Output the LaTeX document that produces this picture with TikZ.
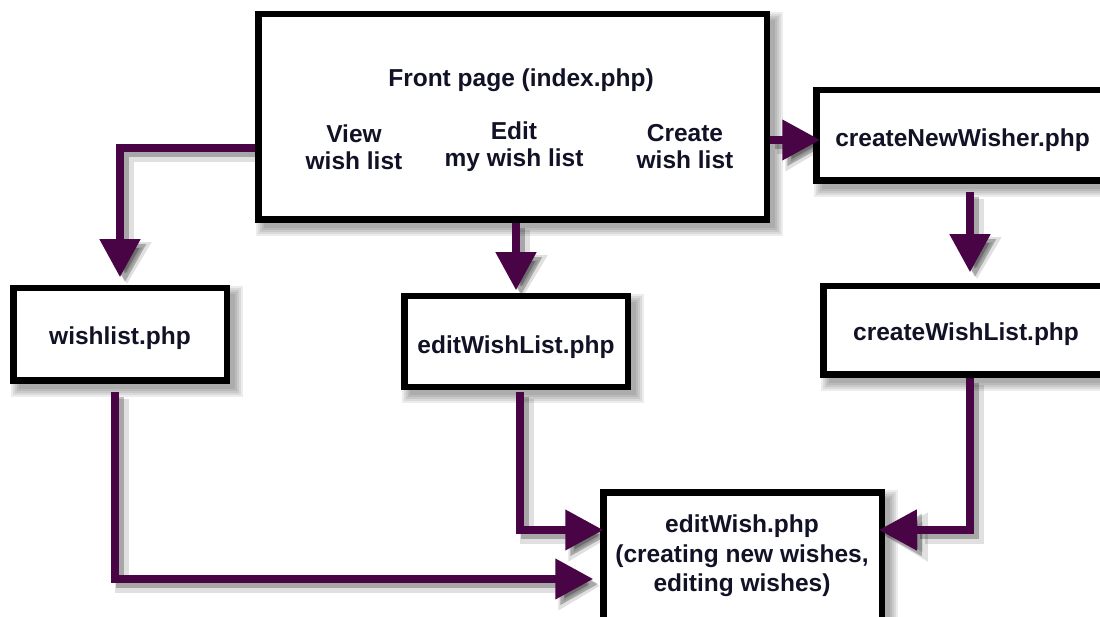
\documentclass[tikz,border=0pt]{standalone}
\usepackage{fontspec}
\setmainfont{Liberation Sans}
\usetikzlibrary{arrows.meta,calc}
\pgfdeclarelayer{paper}
\pgfdeclarelayer{background}
\pgfsetlayers{paper,background,main}
\definecolor{arrowc}{RGB}{72,4,68}
\definecolor{txt}{RGB}{18,18,38}
\newcommand\allconn[1]{%
  \draw[#1, shorten <=3pt, shorten >=11pt] (front.west |- h148) -| (wish.north);
  \draw[#1, shorten <=3pt, shorten >=6pt] (el.north |- front.south) -- (el.north);
  \draw[#1, shorten <=3pt, shorten >=-4pt] (front.east |- h140) -- (cnw.west |- h140);
  \draw[#1, shorten <=11pt, shorten >=14pt] (v970 |- cnw.south) -- (v970 |- cwl.north);
  \draw[#1, shorten <=5pt, shorten >=0pt] (v520 |- el.south) |- (ew.west |- h530);
  \draw[#1, shorten <=11pt, shorten >=10pt] (v115 |- wish.south) |- (ew.west |- h579);
  \draw[#1, shorten <=3pt, shorten >=-3pt] (v970 |- cwl.south) |- (ew.east |- h530);
}
\newcommand\dn[2]{\raisebox{-#1pt}[18pt][5pt]{#2}}
\begin{document}
\begin{tikzpicture}[x=1pt,y=-1pt,
  box/.style={draw=black, line width=6.5pt, fill=white, inner sep=0pt, outer sep=0pt},
  lbl/.style={font=\bfseries\fontsize{24.5}{27}\selectfont, text=txt, align=center, inner sep=0pt},
  conn/.style={draw=arrowc, line width=7.5pt, -{Triangle[width=39pt,length=38pt]}},
  shadA/.style={draw=black, opacity=0.12, line width=14pt, -{Triangle[width=46pt,length=42pt]}},
  shadB/.style={draw=black, opacity=0.25, line width=8pt, -{Triangle[width=40pt,length=38pt]}},
  boxshade/.style={fill=black, opacity=0.075},
]
\useasboundingbox (0,0) rectangle (1100,617);
\begin{pgfonlayer}{paper}
\fill[white] (0,0) rectangle (1100,617);
\end{pgfonlayer}

\coordinate (h148) at (0,148);
\coordinate (h140) at (0,140);
\coordinate (h530) at (0,530);
\coordinate (h579) at (0,579);
\coordinate (v970) at (970,0);
\coordinate (v520) at (520,0);
\coordinate (v115) at (115,0);

\node[box, minimum width=508.5pt, minimum height=205.5pt] (front) at (512.5,117) {};
\node[lbl] (title) at (521,80) {Front page (index.php)};
\node[lbl] (view) at (354,147) {View\\wish list};
\node[lbl] (edit) at (514,147) {Edit\\my wish list};
\node[lbl] (create) at (685,147) {Create\\wish list};

\node[box, lbl, minimum width=292.5pt, minimum height=90.5pt] (cnw) at (962.5,135.5) {\dn{5}{createNewWisher.php}};
\node[box, lbl, minimum width=285.5pt, minimum height=88.5pt] (cwl) at (966,330.5) {\dn{4}{createWishList.php}};
\node[box, lbl, minimum width=213.5pt, minimum height=92.5pt] (wish) at (120,334.5) {\dn{4}{wishlist.php}};
\node[box, lbl, minimum width=223.5pt, minimum height=90.5pt] (el) at (516,341.5) {\dn{6}{editWishList.php}};
\node[box, minimum width=278.5pt, minimum height=154.5pt] (ew) at (742.5,569.5) {};
\node[lbl, font=\bfseries\fontsize{24.5}{29.5}\selectfont] (ewtext) at (742,556) {editWish.php\\(creating new wishes,\\editing wishes)};

\begin{pgfonlayer}{background}
  \foreach \n in {front,cnw,cwl,wish,el,ew}{
    \foreach \e in {1,3,5,7,9}{
      \fill[boxshade] ($(\n.north west)+(7-\e,7-\e)$) rectangle ($(\n.south east)+(7+\e,7+\e)$);
    }
  }
  \begin{scope}[transform canvas={shift={(7pt,-7pt)}}]
    \allconn{shadA}
  \end{scope}
  \begin{scope}[transform canvas={shift={(5pt,-5pt)}}]
    \allconn{shadB}
  \end{scope}
\end{pgfonlayer}
\allconn{conn}
\end{tikzpicture}
\end{document}
